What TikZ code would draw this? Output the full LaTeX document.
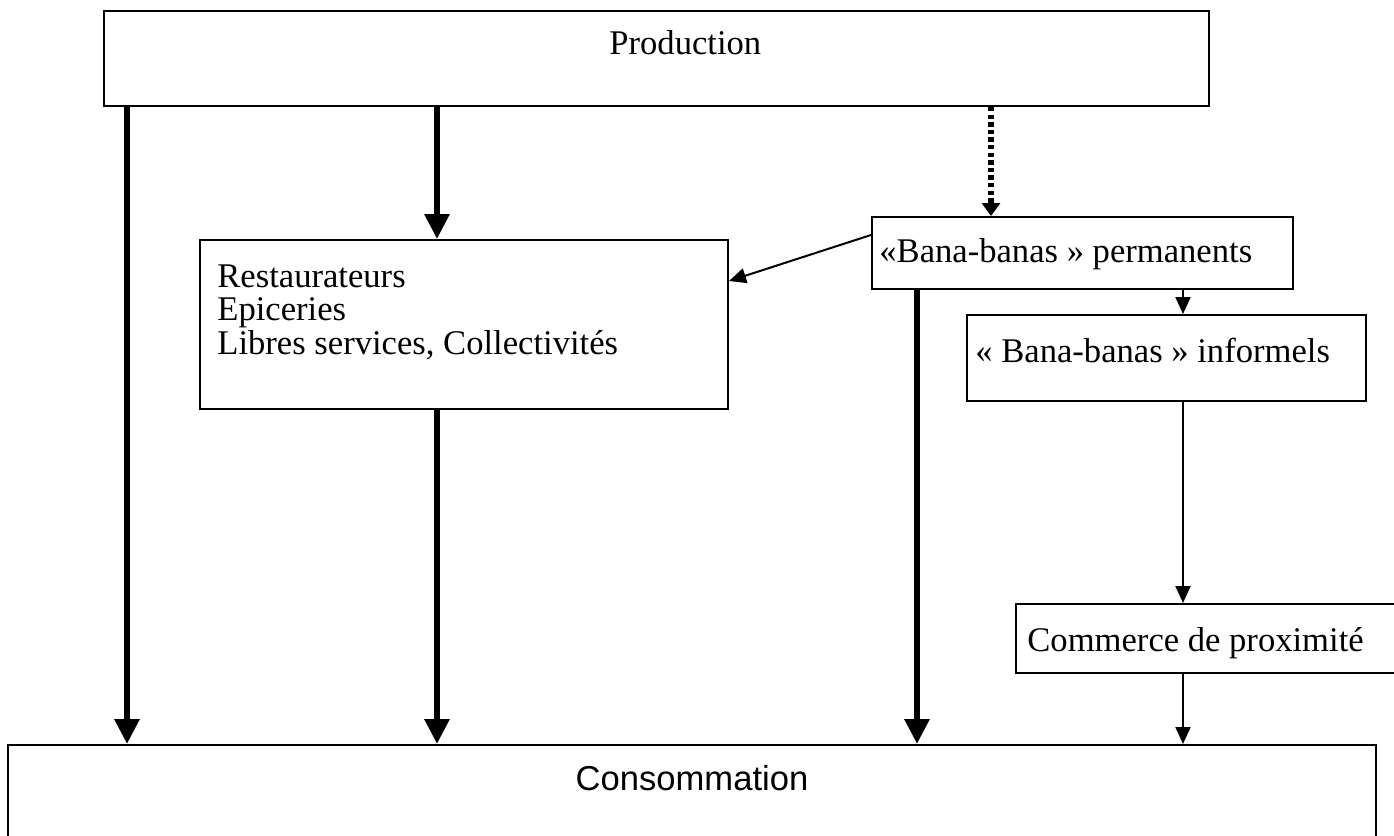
\documentclass[tikz,border=0pt]{standalone}
\usepackage{fontspec}
\setmainfont{Liberation Serif}
\newfontfamily\sansf{Liberation Sans}
\usetikzlibrary{arrows.meta}
\begin{document}
\begin{tikzpicture}[x=0.5pt,y=-0.5pt,
  box/.style={draw, line width=1pt, rectangle, inner sep=0pt},
  txt/.style={inner sep=0pt, font=\fontsize{17.3}{16.6}\selectfont},
  thickarrow/.style={line width=3pt, -{Triangle[length=12.5pt,width=12pt]}},
  thinarrow/.style={line width=1pt, -{Triangle[length=8.5pt,width=7.5pt]}},
  dotarrow/.style={line width=3pt, dash pattern=on 2.2pt off 1.6pt, -{Triangle[length=6.5pt,width=9pt]}}]
\useasboundingbox (0,0) rectangle (1394,836);
% boxes
\node[box, minimum width=552.5pt, minimum height=47.5pt] (prod) at (656.5,58.5) {};
\node[box, minimum width=264pt, minimum height=84.5pt] (resto) at (464,324.5) {};
\node[box, minimum width=210.5pt, minimum height=36pt] (perm) at (1082.5,253) {};
\node[box, minimum width=199.5pt, minimum height=43pt] (inf) at (1166.5,358) {};
\node[box, minimum width=192pt, minimum height=34.5pt] (comm) at (1208,638.5) {};
\node[box, minimum width=684pt, minimum height=62.5pt] (conso) at (692,807.5) {};
% texts
\node[txt, anchor=base west] (prodt) at (609,54) {Production};
\node[txt, anchor=base west, align=left] (restot) at (217,354) {Restaurateurs\\Epiceries\\Libres services, Collectivités};
\node[txt, anchor=base west] (permt) at (879,262) {«Bana-banas » permanents};
\node[txt, anchor=base west] (inft) at (975,362) {« Bana-banas » informels};
\node[txt, anchor=base west] (commt) at (1027,651) {Commerce de proximité};
\node[inner sep=0pt, anchor=base, font=\sansf\fontsize{17.3}{18}\selectfont] (consot) at (692,790) {Consommation};
% connectors
\draw[thickarrow] ([xshift=12pt]prod.south west) -- ([xshift=60pt]conso.north west);
\draw[thickarrow] ([xshift=167pt]prod.south west) -- ([xshift=119pt]resto.north west);
\draw[dotarrow] ([xshift=444pt]prod.south west) -- ([xshift=60pt]perm.north west);
\draw[thinarrow] ([yshift=-9.5pt]perm.north west) -- ([yshift=-21pt]resto.north east);
\draw[thickarrow] ([xshift=119pt]resto.south west) -- ([xshift=215pt]conso.north west);
\draw[thickarrow] ([xshift=23pt]perm.south west) -- ([xshift=455pt]conso.north west);
\draw[thinarrow] ([xshift=156pt]perm.south west) -- ([xshift=108.5pt]inf.north west);
\draw[thinarrow] ([xshift=108.5pt]inf.south west) -- ([xshift=84pt]comm.north west);
\draw[thinarrow] ([xshift=84pt]comm.south west) -- ([xshift=588pt]conso.north west);
\end{tikzpicture}
\end{document}
